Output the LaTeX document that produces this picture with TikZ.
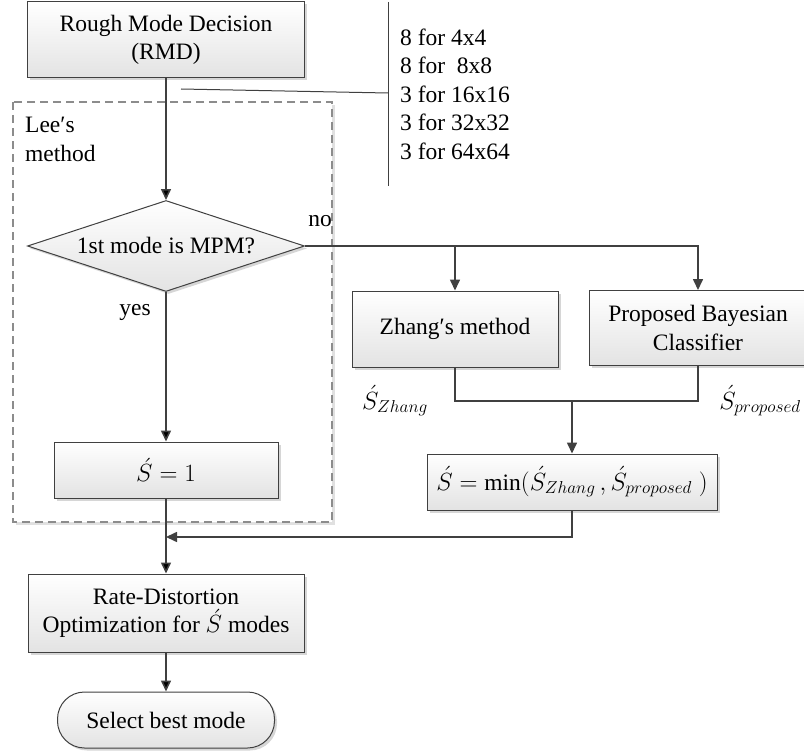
\documentclass[tikz,border=0pt]{standalone}
\usepackage{fontspec}
\setmainfont{Liberation Serif}
\usetikzlibrary{shapes.geometric,arrows.meta,shadows,positioning}

\definecolor{linegray}{RGB}{64,64,64}
\definecolor{framegray}{RGB}{140,140,140}

\tikzset{
  block/.style={draw=linegray, line width=1pt, top color=white, bottom color=black!11,
    drop shadow={shadow xshift=2.5pt, shadow yshift=-2.5pt, fill=black!16, opacity=1},
    align=center, inner sep=2pt},
  decision/.style={block, diamond, aspect=3, inner sep=0pt},
  terminal/.style={block, rounded corners=27pt},
  flow/.style={draw=linegray, line width=1.6pt, -{Triangle[length=11pt,width=10pt]}},
  link/.style={draw=linegray, line width=1.6pt},
  note/.style={draw=linegray, line width=1pt},
}

\begin{document}
\begin{tikzpicture}[x=1pt, y=-1pt, font=\rmfamily\fontsize{23.5}{28.5}\selectfont]
   \useasboundingbox (0,0) rectangle (804,752);

   % Lee's method frame
   \fill[black!12] (16,105) rectangle (335,525);
   \draw[framegray, fill=white, line width=1.2pt, dash pattern=on 8pt off 5pt]
     (13,102) rectangle (332,522);
   \node (lee) [anchor=north west, align=left, inner sep=0pt] at (25,117) {Lee′s\\method};

   \node (rmd)   [block, minimum width=277pt, minimum height=76pt] at (166,40)
     {Rough Mode Decision\\(RMD)};
   \node (dec)   [decision, minimum width=277pt, minimum height=91pt] at (166,246)
     {1st mode is MPM?};
   \node (s1)    [block, minimum width=224pt, minimum height=56pt] at (166,470)
     {$\acute{S}=1$};
   \node (zhang) [block, minimum width=206pt, minimum height=76pt] at (455,329)
     {Zhang′s method};
   \node (bayes) [block, minimum width=217pt, minimum height=75pt] at (698,328)
     {Proposed Bayesian\\Classifier};
   \node (smin)  [block, minimum width=290pt, minimum height=56pt] at (572,482)
     {$\acute{S}=\min\bigl(\acute{S}_{Zhang}\,,\acute{S}_{proposed}\;\bigr)$};
   \node (rdo)   [block, minimum width=276pt, minimum height=78pt] at (166,613)
     {Rate-Distortion\\Optimization for $\acute{S}$ modes};
   \node (best)  [terminal, minimum width=217pt, minimum height=56pt] at (166,720)
     {Select best mode};

   \node (no)    at (320,221) {no};
   \node (yes)   at (135,312) {yes};
   \node (szh)   at (395,401) {$\acute{S}_{Zhang}$};
   \node (spr)   at (760,401) {$\acute{S}_{proposed}$};

   % candidate numbers
   \node (cand) [anchor=west, align=left, inner sep=0pt] at (400,94)
     {8 for 4x4\\8 for \ 8x8\\3 for 16x16\\3 for 32x32\\3 for 64x64};
   \coordinate (ntop) at (388,2);
   \coordinate (nbot) at (388,186);
   \coordinate (nmid) at (388,93);
   \coordinate (nend) at (181,89);
   \draw[note] (ntop) -- (nbot);
   \draw[note] (nend) -- (nmid);

   \coordinate (merge) at (572,401);
   \coordinate (join)  at (166,537);

   \path[flow]
     (rmd) edge (dec)
     (dec) edge (s1)
     (s1)  edge (rdo)
     (rdo) edge (best);
   \draw[flow] (dec.east) -| (zhang.north);
   \draw[flow] (dec.east) -| (bayes.north);
   \draw[link] (zhang.south) |- (merge) -| (bayes.south);
   \draw[flow] (merge) -- (smin.north);
   \draw[flow] (smin.south) |- (join);
\end{tikzpicture}
\end{document}
